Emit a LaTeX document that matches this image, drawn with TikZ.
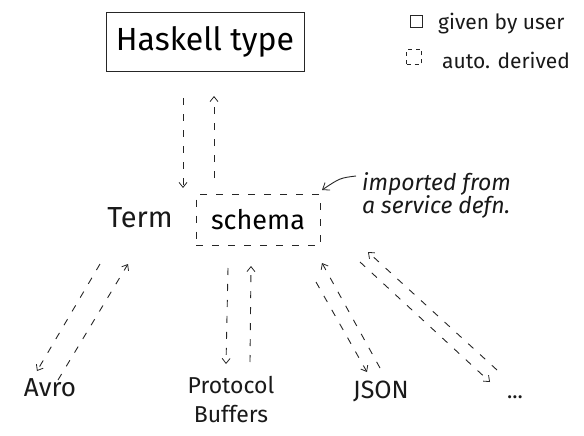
\documentclass[tikz,border=0pt]{standalone}
\usepackage{fontspec}
\setmainfont{Fira Sans}
\usetikzlibrary{arrows.meta}
\begin{document}
\begin{tikzpicture}[x=1pt,y=-1pt,
  ink/.style={line width=0.9pt,draw=black!85},
  dsh/.style={ink,dash pattern=on 7pt off 9pt},
  darrow/.style={dsh,-{Straight Barb[length=5pt,width=8pt,line width=0.8pt]}},
  lbl/.style={inner sep=0pt,text=black!90},
]
\useasboundingbox (0,0) rectangle (584,436);
% boxes
\node[ink,draw,minimum width=198pt,minimum height=59pt,inner sep=0pt,font=\fontsize{32}{34}\selectfont] (haskell) at (205,42) {Haskell type};
\node[dsh,draw,minimum width=124pt,minimum height=51pt,inner sep=0pt,font=\fontsize{27}{30}\selectfont] (schema) at (258,220) {schema};
\node[lbl,font=\fontsize{29}{30}\selectfont] (term) at (140,218) {Term};
% targets
\node[lbl,font=\fontsize{26}{28}\selectfont] (avro) at (50,388) {Avro};
\node[lbl,font=\fontsize{23}{29}\selectfont,align=center] (pb) at (231,400) {Protocol\\Buffers};
\node[lbl,font=\fontsize{25}{28}\selectfont] (json) at (381,391) {JSON};
\node[lbl,font=\fontsize{22}{24}\selectfont] (dots) at (515,397) {...};
% legend
\node[ink,draw,minimum size=12pt,inner sep=0pt] (lsolid) at (416,21) {};
\node[lbl,anchor=west,font=\fontsize{21}{23}\selectfont] (lgiven) at (438,24) {given by user};
\node[dsh,draw,dash pattern=on 4pt off 4pt,minimum size=15pt,inner sep=0pt] (ldash) at (414,57) {};
\node[lbl,anchor=west,font=\fontsize{21}{23}\selectfont] (lauto) at (442,60) {auto. derived};
% annotation
\node[lbl,anchor=west,font=\itshape\fontsize{23}{23}\selectfont,align=left] (note) at (362,195) {imported from\\a service defn.};
% connector coordinates
\coordinate (h1) at (183,98);  \coordinate (s1) at (183,188);
\coordinate (s2) at (214,178); \coordinate (h2) at (214,96);
\coordinate (a1) at (100,264); \coordinate (a1e) at (37,371);
\coordinate (a2) at (58,380);  \coordinate (a2e) at (128,264);
\coordinate (p1) at (228,268); \coordinate (p1e) at (226,364);
\coordinate (p2) at (250,362); \coordinate (p2e) at (251,266);
\coordinate (j1) at (316,282); \coordinate (j1e) at (367,372);
\coordinate (j2) at (380,368); \coordinate (j2e) at (322,263);
\coordinate (d1) at (360,262); \coordinate (d1e) at (490,382);
\coordinate (d2) at (497,370); \coordinate (d2e) at (368,252);
\coordinate (n1) at (356,176); \coordinate (n1e) at (322,190);
% arrows
\draw[darrow] (h1) -- (s1);
\draw[darrow] (s2) -- (h2);
\draw[darrow] (a1) -- (a1e);
\draw[darrow] (a2) -- (a2e);
\draw[darrow] (p1) -- (p1e);
\draw[darrow] (p2) -- (p2e);
\draw[darrow] (j1) -- (j1e);
\draw[darrow] (j2) -- (j2e);
\draw[darrow] (d1) -- (d1e);
\draw[darrow] (d2) -- (d2e);
\draw[ink,-{Straight Barb[length=6pt,width=9pt,line width=0.8pt]}] (n1) .. controls (340,178) .. (n1e);
\end{tikzpicture}
\end{document}
